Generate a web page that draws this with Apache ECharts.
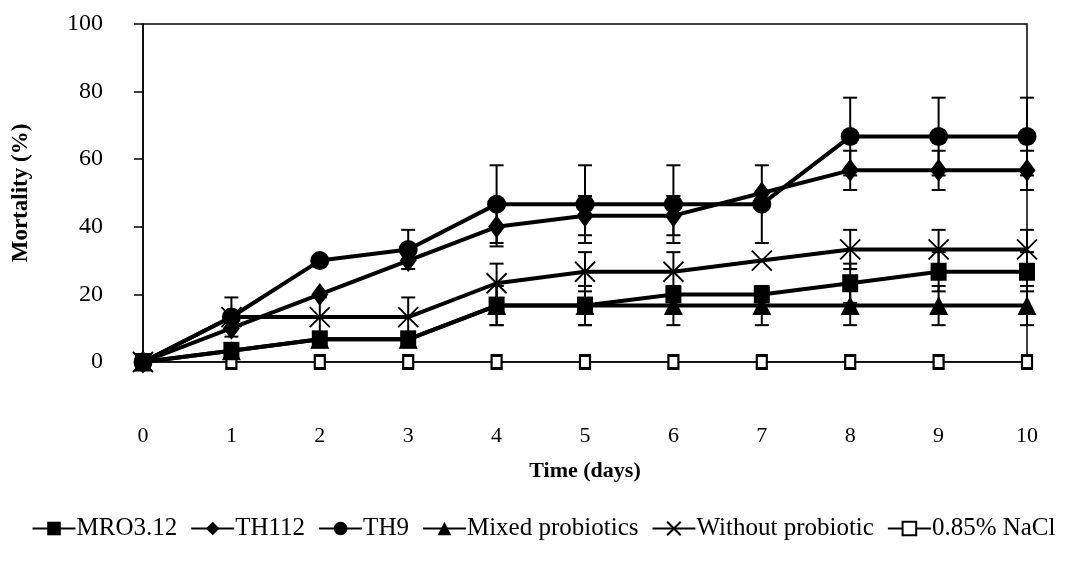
<!DOCTYPE html>
<html>
<head>
<meta charset="utf-8">
<script src="https://cdn.jsdelivr.net/npm/echarts@6/dist/echarts.min.js"></script>
<style>
html,body{margin:0;padding:0;background:#fff;}
#chart{width:1087px;height:563px;}
</style>
</head>
<body>
<div id="chart"></div>
<script>
const days = [0, 1, 2, 3, 4, 5, 6, 7, 8, 9, 10];
const yTicks = [0, 20, 40, 60, 80, 100];

const mro = [0, 3.3, 6.7, 6.7, 16.7, 16.7, 20, 20, 23.3, 26.7, 26.7];
const mroSd = [0, 0, 0, 0, 5.8, 5.8, 0, 0, 5.8, 5.8, 5.8];
const th112 = [0, 10, 20, 30, 40, 43.3, 43.3, 50, 56.7, 56.7, 56.7];
const th112Sd = [0, 0, 0, 0, 5.8, 5.8, 5.8, 0, 5.8, 5.8, 5.8];
const th9 = [0, 13.3, 30, 33.3, 46.7, 46.7, 46.7, 46.7, 66.7, 66.7, 66.7];
const th9Sd = [0, 0, 0, 5.8, 11.5, 11.5, 11.5, 11.5, 11.5, 11.5, 11.5];
const mixed = [0, 3.3, 6.7, 6.7, 16.7, 16.7, 16.7, 16.7, 16.7, 16.7, 16.7];
const mixedSd = [0, 0, 0, 0, 5.8, 5.8, 5.8, 5.8, 5.8, 5.8, 5.8];
const without = [0, 13.3, 13.3, 13.3, 23.3, 26.7, 26.7, 30, 33.3, 33.3, 33.3];
const withoutSd = [0, 5.8, 5.8, 5.8, 5.8, 5.8, 5.8, 0, 5.8, 5.8, 5.8];
const nacl = [0, 0, 0, 0, 0, 0, 0, 0, 0, 0, 0];

const names = ['MRO3.12', 'TH112', 'TH9', 'Mixed probiotics', 'Without probiotic', '0.85% NaCl'];
const FONT = 'Liberation Serif';

const chart = echarts.init(document.getElementById('chart'));

function pts(vals) { return days.map((d, i) => [d, vals[i]]); }

function errSeries(vals, sds) {
  return {
    type: 'custom',
    silent: true,
    z: 1,
    data: days.map((d, i) => [d, vals[i], sds[i]]),
    renderItem: function (params, api) {
      const x = api.value(0), y = api.value(1), sd = api.value(2);
      if (!sd) return null;
      const hi = api.coord([x, y + sd]);
      const lo = api.coord([x, y - sd]);
      const cw = 7;
      const st = { stroke: '#000', lineWidth: 2 };
      return {
        type: 'group',
        children: [
          { type: 'line', shape: { x1: hi[0], y1: hi[1], x2: lo[0], y2: lo[1] }, style: st },
          { type: 'line', shape: { x1: hi[0] - cw, y1: hi[1], x2: hi[0] + cw, y2: hi[1] }, style: st },
          { type: 'line', shape: { x1: lo[0] - cw, y1: lo[1], x2: lo[0] + cw, y2: lo[1] }, style: st }
        ]
      };
    }
  };
}

function lineSeries(name, vals, symbol, size, extra) {
  return Object.assign({
    name: name,
    type: 'line',
    data: pts(vals),
    symbol: symbol,
    symbolSize: size,
    showAllSymbol: true,
    z: 3,
    lineStyle: { color: '#000', width: 4 },
    itemStyle: { color: '#000', borderColor: '#000', borderWidth: 0 }
  }, extra || {});
}

const xPath = 'path://M0,0 L10,10 M10,0 L0,10';

chart.setOption({
  animation: false,
  backgroundColor: '#fff',
  textStyle: { fontFamily: FONT, color: '#000' },
  grid: {
    left: 143, top: 24, right: 60, bottom: 201,
    show: true, borderColor: '#000', borderWidth: 1.5, backgroundColor: 'transparent'
  },
  xAxis: {
    type: 'value', min: 0, max: 10, interval: 1,
    name: 'Time (days)', nameLocation: 'middle', nameGap: 98,
    nameTextStyle: { fontFamily: FONT, fontSize: 22, fontWeight: 'bold', color: '#000' },
    axisLine: { show: false },
    axisTick: { show: false },
    splitLine: { show: false },
    axisLabel: { margin: 63, fontFamily: FONT, fontSize: 22, color: '#000' }
  },
  yAxis: {
    type: 'value', min: 0, max: 100, interval: 20,
    name: 'Mortality (%)', nameLocation: 'middle', nameGap: 110, nameRotate: 90,
    nameTextStyle: { fontFamily: FONT, fontSize: 23, fontWeight: 'bold', color: '#000' },
    axisLine: { show: true, lineStyle: { color: '#000', width: 1.5 } },
    axisTick: { show: true, inside: false, length: 9, lineStyle: { color: '#000', width: 1.5 } },
    splitLine: { show: false },
    axisLabel: { margin: 40, fontFamily: FONT, fontSize: 24, color: '#000' }
  },
  legend: {
    data: names,
    left: 'center', top: 516, padding: 0,
    itemWidth: 43, itemHeight: 17, itemGap: 13,
    textStyle: { fontFamily: FONT, fontSize: 25, color: '#000', padding: [0, 0, 0, -4] },
    inactiveColor: '#000'
  },
  series: [
    errSeries(mro, mroSd),
    errSeries(th112, th112Sd),
    errSeries(th9, th9Sd),
    errSeries(mixed, mixedSd),
    errSeries(without, withoutSd),
    lineSeries('0.85% NaCl', nacl, 'rect', [10, 13], {
      lineStyle: { color: '#000', width: 1.5 },
      itemStyle: { color: '#fff', borderColor: '#000', borderWidth: 2.5 }
    }),
    lineSeries('Mixed probiotics', mixed, 'triangle', 19),
    lineSeries('MRO3.12', mro, 'rect', [16, 18]),
    lineSeries('Without probiotic', without, xPath, 20, {
      itemStyle: { color: '#fff', borderColor: '#000', borderWidth: 1.8 }
    }),
    lineSeries('TH112', th112, 'diamond', [17, 23]),
    lineSeries('TH9', th9, 'circle', 19)
  ]
});
</script>
</body>
</html>
